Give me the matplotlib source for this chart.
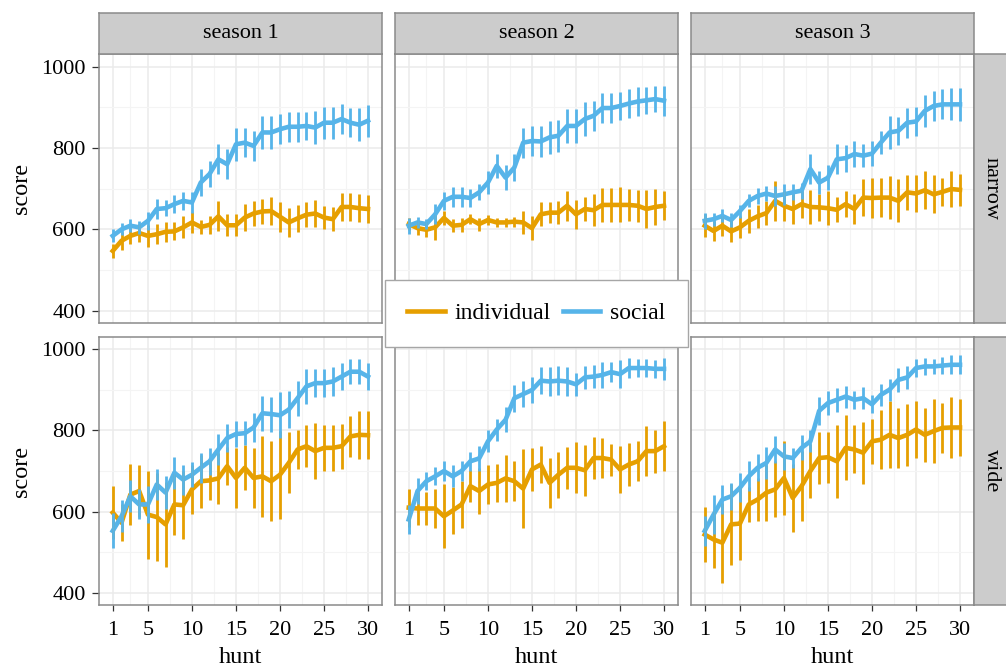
import numpy as np
import matplotlib
matplotlib.use('Agg')
import matplotlib.pyplot as plt
from matplotlib.lines import Line2D

plt.rcParams['font.family'] = ['Liberation Serif', 'DejaVu Serif']

hunt = np.arange(1, 31)
seasons = ['season 1', 'season 2', 'season 3']
widths = ['narrow', 'wide']

# narrow
s1_narrow_ind = [547, 572, 584, 591, 584, 588, 594, 595, 605, 617, 606, 611, 632, 610, 610,
                 629, 639, 644, 645, 631, 617, 627, 636, 639, 629, 625, 655, 655, 652, 650]
s1_narrow_ind_err = [18, 22, 20, 22, 27, 25, 25, 22, 27, 25, 18, 22, 37, 27, 27,
                     33, 31, 31, 34, 37, 35, 33, 31, 33, 29, 29, 35, 34, 35, 34]
s1_narrow_soc = [584, 600, 609, 605, 621, 650, 652, 662, 670, 666, 715, 736, 772, 760, 809,
                 813, 805, 838, 838, 846, 852, 852, 854, 850, 862, 862, 871, 862, 857, 867]
s1_narrow_soc_err = [16, 15, 16, 16, 22, 25, 20, 22, 22, 25, 33, 31, 37, 37, 40,
                     35, 37, 41, 41, 37, 37, 37, 35, 40, 39, 39, 36, 35, 40, 39]

s2_narrow_ind = [613, 603, 599, 605, 628, 609, 611, 625, 613, 623, 617, 617, 619, 617, 603,
                 637, 641, 641, 658, 637, 650, 647, 660, 660, 660, 660, 658, 650, 655, 658]
s2_narrow_ind_err = [14, 18, 18, 31, 18, 16, 18, 12, 16, 12, 12, 12, 12, 29, 29,
                     29, 25, 29, 37, 35, 29, 39, 41, 41, 43, 39, 39, 47, 45, 35]
s2_narrow_soc = [609, 617, 613, 637, 670, 680, 680, 677, 691, 715, 756, 727, 752, 813, 817,
                 816, 826, 830, 854, 854, 871, 879, 898, 898, 903, 909, 914, 917, 920, 916]
s2_narrow_soc_err = [20, 13, 12, 25, 22, 24, 24, 22, 20, 29, 29, 31, 33, 37, 37,
                     39, 41, 39, 41, 41, 41, 37, 37, 37, 35, 35, 35, 33, 32, 37]

s3_narrow_ind = [609, 596, 609, 595, 605, 621, 632, 640, 670, 658, 650, 662, 655, 654, 652,
                 648, 662, 650, 678, 677, 678, 678, 670, 691, 688, 696, 686, 692, 699, 697]
s3_narrow_ind_err = [28, 25, 25, 27, 27, 29, 29, 29, 50, 37, 37, 33, 41, 33, 41,
                     31, 31, 37, 46, 49, 47, 53, 53, 43, 45, 47, 47, 35, 45, 39]
s3_narrow_soc = [621, 625, 633, 623, 645, 670, 682, 688, 682, 686, 691, 695, 748, 715, 727,
                 772, 775, 785, 781, 786, 813, 838, 842, 862, 865, 891, 903, 907, 907, 907]
s3_narrow_soc_err = [19, 16, 16, 18, 16, 16, 20, 18, 25, 25, 20, 20, 37, 29, 31,
                     37, 33, 33, 29, 31, 29, 41, 35, 37, 35, 39, 37, 37, 39, 40]

# wide
s1_wide_ind = [598, 573, 642, 651, 593, 587, 569, 618, 616, 655, 675, 677, 682, 712, 683,
               708, 683, 687, 675, 691, 720, 753, 761, 749, 757, 757, 761, 785, 789, 788]
s1_wide_ind_err = [66, 45, 75, 63, 108, 108, 104, 75, 84, 60, 65, 49, 63, 47, 73,
                   55, 73, 100, 98, 108, 75, 49, 52, 69, 57, 57, 55, 51, 59, 59]
s1_wide_soc = [553, 589, 638, 618, 618, 667, 647, 696, 679, 691, 708, 724, 753, 781, 791,
               793, 807, 842, 840, 837, 851, 879, 908, 916, 916, 920, 932, 944, 944, 932]
s1_wide_soc_err = [43, 39, 39, 37, 45, 39, 41, 39, 37, 31, 37, 33, 39, 35, 33,
                   29, 35, 43, 43, 57, 45, 43, 43, 35, 35, 35, 33, 31, 31, 33]

s2_wide_ind = [610, 608, 608, 608, 589, 603, 618, 663, 651, 667, 671, 682, 675, 657, 704,
               716, 671, 691, 708, 708, 702, 732, 732, 728, 704, 716, 724, 749, 749, 761]
s2_wide_ind_err = [47, 41, 41, 49, 78, 57, 57, 39, 57, 47, 47, 57, 49, 96, 53,
                   45, 61, 57, 51, 63, 63, 51, 49, 39, 57, 53, 49, 61, 53, 61]
s2_wide_soc = [581, 651, 675, 687, 700, 687, 700, 724, 731, 773, 802, 826, 879, 889, 899,
               922, 920, 922, 920, 913, 930, 932, 936, 943, 938, 953, 953, 953, 951, 951]
s2_wide_soc_err = [35, 33, 22, 22, 24, 27, 24, 24, 31, 27, 27, 31, 33, 31, 33,
                   33, 35, 35, 35, 29, 29, 29, 33, 24, 35, 24, 23, 23, 22, 27]

s3_wide_ind = [544, 532, 524, 569, 571, 618, 630, 647, 655, 683, 634, 663, 700, 732, 734,
               724, 757, 753, 745, 773, 777, 789, 781, 789, 802, 789, 798, 806, 807, 807]
s3_wide_ind_err = [67, 69, 98, 100, 90, 43, 53, 69, 69, 90, 84, 86, 67, 65, 63,
                   90, 80, 59, 76, 55, 73, 82, 73, 76, 69, 67, 78, 61, 76, 69]
s3_wide_soc = [553, 593, 630, 638, 659, 687, 708, 720, 753, 736, 732, 757, 773, 848, 867,
               875, 883, 875, 879, 864, 887, 900, 924, 930, 953, 957, 957, 959, 961, 961]
s3_wide_soc_err = [37, 47, 35, 33, 35, 37, 33, 39, 33, 33, 24, 31, 27, 35, 29,
                   29, 27, 22, 27, 22, 27, 27, 29, 29, 22, 20, 18, 20, 23, 23]

panels = {
    ('narrow', 0): (s1_narrow_ind, s1_narrow_ind_err, s1_narrow_soc, s1_narrow_soc_err),
    ('narrow', 1): (s2_narrow_ind, s2_narrow_ind_err, s2_narrow_soc, s2_narrow_soc_err),
    ('narrow', 2): (s3_narrow_ind, s3_narrow_ind_err, s3_narrow_soc, s3_narrow_soc_err),
    ('wide', 0): (s1_wide_ind, s1_wide_ind_err, s1_wide_soc, s1_wide_soc_err),
    ('wide', 1): (s2_wide_ind, s2_wide_ind_err, s2_wide_soc, s2_wide_soc_err),
    ('wide', 2): (s3_wide_ind, s3_wide_ind_err, s3_wide_soc, s3_wide_soc_err),
}

col_ind = '#E69F00'
col_soc = '#56B4E9'
border = '#8a8a8a'

W, H = 1006, 666
fig = plt.figure(figsize=(W / 100, H / 100), dpi=100)

def px_axes(left, top, width, height):
    return fig.add_axes([left / W, 1 - (top + height) / H, width / W, height / H])

col_left = [99, 395, 691]
panel_w = 283
row_top = [54.3, 336.7]
panel_h = 268.7

for r, wname in enumerate(widths):
    for c in range(3):
        ax = px_axes(col_left[c], row_top[r], panel_w, panel_h)
        ind, ind_err, soc, soc_err = panels[(wname, c)]
        ind, ind_err, soc, soc_err = map(np.array, (ind, ind_err, soc, soc_err))
        ax.plot(hunt, ind, color=col_ind, lw=3.3, zorder=3)
        ax.plot(hunt, soc, color=col_soc, lw=3.3, zorder=3)
        ax.vlines(hunt, ind - ind_err, ind + ind_err, color=col_ind, lw=2.0, zorder=4)
        ax.vlines(hunt, soc - soc_err, soc + soc_err, color=col_soc, lw=2.0, zorder=4)

        ax.set_xlim(-0.56, 31.59)
        ax.set_ylim(370, 1030)
        ax.set_xticks([1, 5, 10, 15, 20, 25, 30])
        ax.set_xticks([3, 7.5, 12.5, 17.5, 22.5, 27.5], minor=True)
        ax.set_yticks([400, 600, 800, 1000])
        ax.set_yticks([500, 700, 900], minor=True)
        ax.grid(which='major', color='#ebebeb', lw=1.1, zorder=0)
        ax.grid(which='minor', color='#f4f4f4', lw=0.8, zorder=0)
        ax.set_axisbelow(True)
        ax.tick_params(which='minor', length=0)
        ax.tick_params(which='major', direction='out', color='#333333', width=0.9,
                       labelsize=16, labelcolor='black')
        ax.tick_params(axis='x', length=4.5, pad=7)
        ax.tick_params(axis='y', length=5, pad=4.5)
        if c != 0:
            ax.tick_params(axis='y', labelleft=False, length=0)
        if r == 0:
            ax.tick_params(axis='x', labelbottom=False, length=0)
        for s in ax.spines.values():
            s.set_color(border)
            s.set_linewidth(1.1)

        # season strips
        if r == 0:
            st = px_axes(col_left[c], 12.7, panel_w, 41.6)
            st.set_facecolor('#cccccc')
            st.set_xticks([])
            st.set_yticks([])
            for s in st.spines.values():
                s.set_color(border)
                s.set_linewidth(1.1)
            st.text(0.5, 0.5, seasons[c], ha='center', va='center', fontsize=16,
                    transform=st.transAxes)

        if r == 1:
            fig.text((col_left[c] + panel_w / 2) / W, 1 - 663 / H, 'hunt',
                     ha='center', va='baseline', fontsize=17.5)

    # width strips
    st = px_axes(974, row_top[r], 40, panel_h)
    st.set_facecolor('#cccccc')
    st.set_xticks([])
    st.set_yticks([])
    for s in st.spines.values():
        s.set_color(border)
        s.set_linewidth(1.1)
    fig.text(991 / W, 1 - (row_top[r] + panel_h / 2) / H, wname, rotation=270,
             ha='center', va='center', fontsize=16)
    fig.text(22 / W, 1 - (row_top[r] + panel_h / 2) / H, 'score', rotation=90,
             ha='center', va='center', fontsize=17.5)

handles = [Line2D([], [], color=col_ind, lw=3.3), Line2D([], [], color=col_soc, lw=3.3)]
leg = fig.legend(handles, ['individual', 'social'], loc='center',
                 bbox_to_anchor=(536.2 / W, 1 - 313.5 / H), ncol=2, frameon=True,
                 fancybox=False, edgecolor='#a6a6a6', facecolor='white', framealpha=1,
                 fontsize=17, handlelength=1.6, handletextpad=0.4, columnspacing=0.5,
                 borderpad=0.95)
leg.get_frame().set_linewidth(1.0)

fig.savefig('out.png', dpi=100)
